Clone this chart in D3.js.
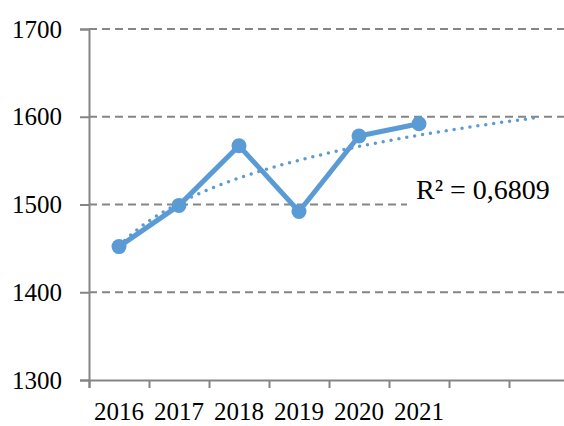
<html>
<head>
  <style>
  body { margin: 0; background: #fff; }
  text { font-family: "Liberation Serif", "DejaVu Serif", serif; fill: #000; }
  </style>
</head>
<body>
  <div id="elm"></div>
  <script src="https://d3js.org/d3.v7.min.js"></script>
  <script>
  'use strict';

  var years = ['2016', '2017', '2018', '2019', '2020', '2021'];
  var values = [1452, 1499, 1567, 1492, 1578, 1592];
  var yTicks = [1300, 1400, 1500, 1600, 1700];
  var r2Label = 'R² = 0,6809';
  var forward = 2; // trendline forecast periods

  var width = 564, height = 426;
  var slots = years.length + forward;

  var svg = d3.select('#elm').append('svg').attr('width', width).attr('height', height);

  var x = d3.scaleLinear().domain([0, slots]).range([89, 569]);
  var y = d3.scaleLinear().domain([1300, 1700]).range([380, 29]);

  // grid
  svg.append('g').selectAll('line').data(yTicks.filter(function(d) { return d > 1300; }))
    .enter().append('line')
    .attr('x1', x(0)).attr('x2', x(slots))
    .attr('y1', function(d) { return y(d); }).attr('y2', function(d) { return y(d); })
    .attr('stroke', '#858585').attr('stroke-width', 2).attr('stroke-dasharray', '8,5');

  // y axis
  var yAxis = d3.axisLeft(y).tickValues(yTicks).tickSize(9).tickPadding(18).tickFormat(d3.format('d'));
  var gy = svg.append('g').attr('transform', 'translate(' + x(0) + ',0)').call(yAxis);
  gy.select('.domain').attr('stroke', '#858585').attr('stroke-width', 2);
  gy.selectAll('.tick line').attr('stroke', '#858585').attr('stroke-width', 2);
  gy.selectAll('.tick text').style('font-size', '25px').attr('fill', '#000')
    .style('font-family', '"Liberation Serif", serif');

  // x axis
  var xAxis = d3.axisBottom(x).tickValues(d3.range(0, slots + 1)).tickSize(8).tickFormat('');
  var gx = svg.append('g').attr('transform', 'translate(0,' + y(1300) + ')').call(xAxis);
  gx.select('.domain').attr('stroke', '#858585').attr('stroke-width', 2);
  gx.selectAll('.tick line').attr('stroke', '#858585').attr('stroke-width', 2);

  svg.append('g').selectAll('text').data(years).enter().append('text')
    .attr('x', function(d, i) { return x(i + 0.5); })
    .attr('y', 420)
    .attr('text-anchor', 'middle')
    .style('font-size', '25px')
    .text(function(d) { return d; });

  // logarithmic trendline (least squares on ln(x))
  var lx = values.map(function(d, i) { return Math.log(i + 1); });
  var mx = d3.mean(lx), my = d3.mean(values);
  var sxy = d3.sum(lx, function(d, i) { return (d - mx) * (values[i] - my); });
  var sxx = d3.sum(lx, function(d) { return (d - mx) * (d - mx); });
  var a = sxy / sxx, b = my - a * mx;
  var trend = d3.range(1, slots + 0.001, 0.05).map(function(t) { return [t, a * Math.log(t) + b]; });

  // label background + label
  svg.append('rect').attr('x', 407).attr('y', 168).attr('width', 157).attr('height', 42).attr('fill', '#fff');
  svg.append('text').attr('x', 416).attr('y', 199).style('font-size', '28px').text(r2Label);

  // data line
  var line = d3.line().x(function(d, i) { return x(i + 0.5); }).y(function(d) { return y(d); });
  svg.append('path').datum(values).attr('d', line)
    .attr('fill', 'none').attr('stroke', '#5b9bd5').attr('stroke-width', 5).attr('stroke-linejoin', 'round');

  svg.append('path').datum(trend)
    .attr('d', d3.line().x(function(d) { return x(d[0] - 0.5); }).y(function(d) { return y(d[1]); }))
    .attr('fill', 'none').attr('stroke', '#5b9bd5').attr('stroke-width', 3.5)
    .attr('stroke-linecap', 'round').attr('stroke-dasharray', '0,8');

  svg.append('g').selectAll('circle').data(values).enter().append('circle')
    .attr('cx', function(d, i) { return x(i + 0.5); })
    .attr('cy', function(d) { return y(d); })
    .attr('r', 7.5).attr('fill', '#5b9bd5');
  </script>
</body>
</html>
